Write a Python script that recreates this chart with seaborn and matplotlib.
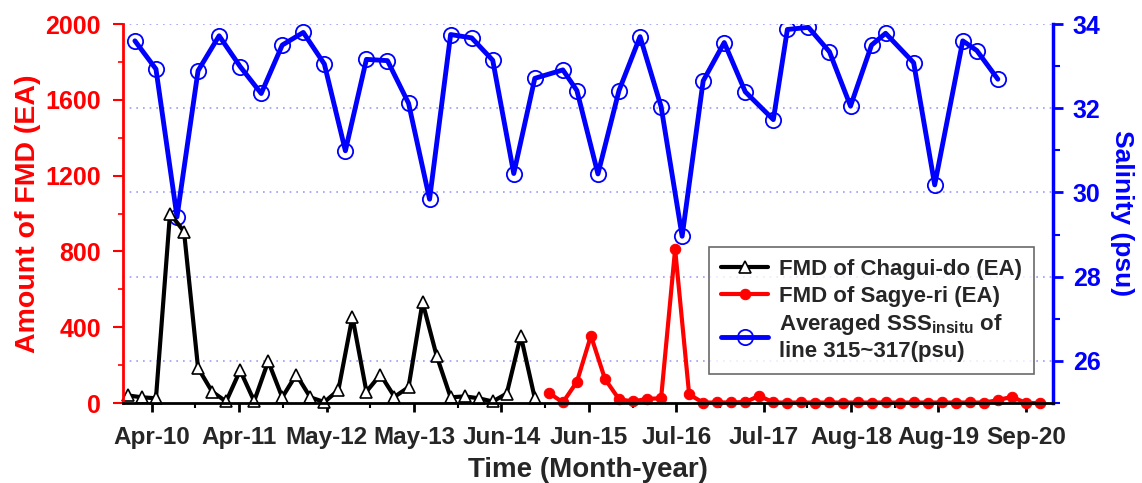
import matplotlib
matplotlib.use('Agg')
import matplotlib.pyplot as plt
import seaborn as sns
import pandas as pd
from matplotlib.font_manager import FontProperties
from matplotlib.ticker import MultipleLocator, FixedLocator

# months counted from Apr-10, bimonthly FMD sampling
chagui_months = [-3.4, -1.4, 0.6, 2.6, 4.6, 6.6, 8.6, 10.6, 12.6, 14.6,
                 16.6, 18.6, 20.6, 22.6, 24.6, 26.6, 28.6, 30.6, 32.6, 34.6,
                 36.6, 38.6, 40.6, 42.6, 44.6, 46.6, 48.6, 50.6, 52.6, 54.6]
chagui_fmd = [40, 30, 25, 1000, 905, 185, 60, 8, 172, 10,
              220, 30, 150, 30, 5, 68, 455, 60, 150, 33,
              83, 532, 250, 30, 35, 25, 8, 50, 355, 25]

sagye_months = [56.6, 58.6, 60.6, 62.6, 64.6, 66.6, 68.6, 70.6, 72.6, 74.6,
                76.6, 78.6, 80.6, 82.6, 84.6, 86.6, 88.6, 90.6, 92.6, 94.6,
                96.6, 98.6, 100.6, 102.6, 104.6, 106.6, 108.6, 110.6, 112.6, 114.6,
                116.6, 118.6, 120.6, 122.6, 124.6, 126.6]
sagye_fmd = [54, 3, 112, 355, 127, 20, 8, 22, 25, 812,
             45, 2, 3, 3, 5, 38, 3, 2, 3, 2,
             3, 2, 3, 2, 3, 2, 3, 2, 3, 2,
             3, 2, 15, 33, 0, 0]

# quarterly salinity
sss_months = [-2.4, 0.6, 3.6, 6.6, 9.6, 12.6, 15.6, 18.6, 21.6, 24.6,
              27.6, 30.6, 33.6, 36.6, 39.6, 42.6, 45.6, 48.6, 51.6, 54.6,
              58.6, 60.6, 63.6, 66.6, 69.6, 72.6, 75.6, 78.6, 81.6, 84.6,
              88.6, 90.6, 93.6, 96.6, 99.6, 102.6, 104.6, 108.6, 111.6, 115.6,
              117.6, 120.6]
sss = [33.60, 32.93, 29.42, 32.89, 33.72, 32.99, 32.35, 33.50, 33.80, 33.05,
       30.99, 33.16, 33.13, 32.12, 29.84, 33.75, 33.67, 33.14, 30.45, 32.71,
       32.91, 32.42, 30.44, 32.42, 33.70, 32.04, 28.96, 32.65, 33.56, 32.39,
       31.73, 33.87, 33.92, 33.34, 32.05, 33.50, 33.78, 33.08, 30.18, 33.60,
       33.37, 32.69]

tick_labels = ['Apr-10', 'Apr-11', 'May-12', 'May-13', 'Jun-14', 'Jun-15',
               'Jul-16', 'Jul-17', 'Aug-18', 'Aug-19', 'Sep-20']
tick_step = 12.46

sns.set_style('white')
plt.rcParams['font.family'] = ['Liberation Sans', 'DejaVu Sans']
plt.rcParams['font.weight'] = 'bold'
plt.rcParams['mathtext.default'] = 'regular'

fig = plt.figure(figsize=(11.42, 4.83), dpi=100)
ax1 = fig.add_axes([0.108, 0.1656, 0.8143, 0.7847])
ax2 = ax1.twinx()

chagui = pd.DataFrame({'month': chagui_months, 'fmd': chagui_fmd})
sagye = pd.DataFrame({'month': sagye_months, 'fmd': sagye_fmd})
sal = pd.DataFrame({'month': sss_months, 'sss': sss})

sns.lineplot(data=chagui, x='month', y='fmd', ax=ax1, color='black', lw=3,
             marker='^', ms=9, mfc='white', mec='black', mew=1.2,
             label='FMD of Chagui-do (EA)', clip_on=False)
sns.lineplot(data=sagye, x='month', y='fmd', ax=ax1, color='red', lw=3,
             marker='o', ms=7.5, mfc='red', mec='red',
             label='FMD of Sagye-ri (EA)', clip_on=False)
sns.lineplot(data=sal, x='month', y='sss', ax=ax2, color='blue', lw=3.5,
             marker='o', ms=11, mfc='none', mec='blue', mew=1.3,
             label='Averaged SSS$_{\\mathregular{insitu}}$ of\nline 315~317(psu)')

# left axis above the twin so the legend sits on top
ax1.set_zorder(ax2.get_zorder() + 1)
ax1.patch.set_visible(False)

ax1.set_xlim(-4.05, 128.5)
ax1.set_ylim(0, 2000)
ax2.set_ylim(25, 34)

ax1.xaxis.set_major_locator(FixedLocator([i * tick_step for i in range(11)]))
ax1.xaxis.set_minor_locator(FixedLocator([(i + 0.5) * tick_step for i in range(11)]))
ax1.set_xticklabels(tick_labels, fontsize=17.5, fontweight='bold')
ax1.yaxis.set_major_locator(MultipleLocator(400))
ax1.yaxis.set_minor_locator(MultipleLocator(200))
ax2.yaxis.set_major_locator(MultipleLocator(2))
ax2.yaxis.set_minor_locator(MultipleLocator(1))

ax1.tick_params(axis='x', which='major', direction='out', length=6.5, width=2,
                color='black', pad=10, bottom=True)
ax1.tick_params(axis='x', which='minor', direction='out', length=3.6, width=1.5,
                color='black', bottom=True)
ax1.tick_params(axis='y', which='major', direction='out', length=7, width=1.5,
                colors='red', labelsize=18, pad=9, left=True)
ax1.tick_params(axis='y', which='minor', direction='out', length=3.6, width=1.2,
                color='red', left=True)
ax2.tick_params(axis='y', which='major', direction='out', length=7, width=2,
                colors='blue', labelsize=18, pad=7, right=True)
ax2.tick_params(axis='y', which='minor', direction='out', length=4.8, width=1.5,
                color='blue', right=True)
for lab in ax1.get_yticklabels() + ax2.get_yticklabels():
    lab.set_fontweight('bold')

ax2.yaxis.grid(True, which='major', linestyle=(0, (1, 3)), color='#9a9aff', lw=1.2)
ax1.grid(False)

for ax in (ax1, ax2):
    ax.spines['top'].set_visible(False)
ax1.spines['left'].set_color('red')
ax1.spines['left'].set_linewidth(2)
ax1.spines['bottom'].set_color('black')
ax1.spines['bottom'].set_linewidth(2)
ax1.spines['right'].set_visible(False)
ax2.spines['left'].set_visible(False)
ax2.spines['bottom'].set_visible(False)
ax2.spines['right'].set_color('blue')
ax2.spines['right'].set_linewidth(2.5)

ax1.set_xlabel('Time (Month-year)', fontsize=20, fontweight='bold', labelpad=6)
ax1.set_ylabel('Amount of FMD (EA)', fontsize=20.5, fontweight='bold',
               color='red', labelpad=3)
ax2.set_ylabel('Salinity (psu)', fontsize=19, fontweight='bold',
               color='blue', rotation=270, labelpad=24)

legend_font = FontProperties(family='Liberation Sans', weight='bold', size=16)
h1, l1 = ax1.get_legend_handles_labels()
h2, l2 = ax2.get_legend_handles_labels()
ax2.get_legend().remove()
leg = ax1.legend(h1 + h2, l1 + l2, loc='upper left',
                 bbox_to_anchor=(0.6298, 0.4116), borderaxespad=0,
                 frameon=True, fancybox=False, edgecolor='#444444',
                 handlelength=2.1, labelspacing=0.25, borderpad=0.55,
                 handletextpad=0.5, prop=legend_font)
for t in leg.get_texts():
    t.set_fontproperties(legend_font)
leg.get_frame().set_linewidth(1.2)

fig.savefig('out.png', dpi=100)
